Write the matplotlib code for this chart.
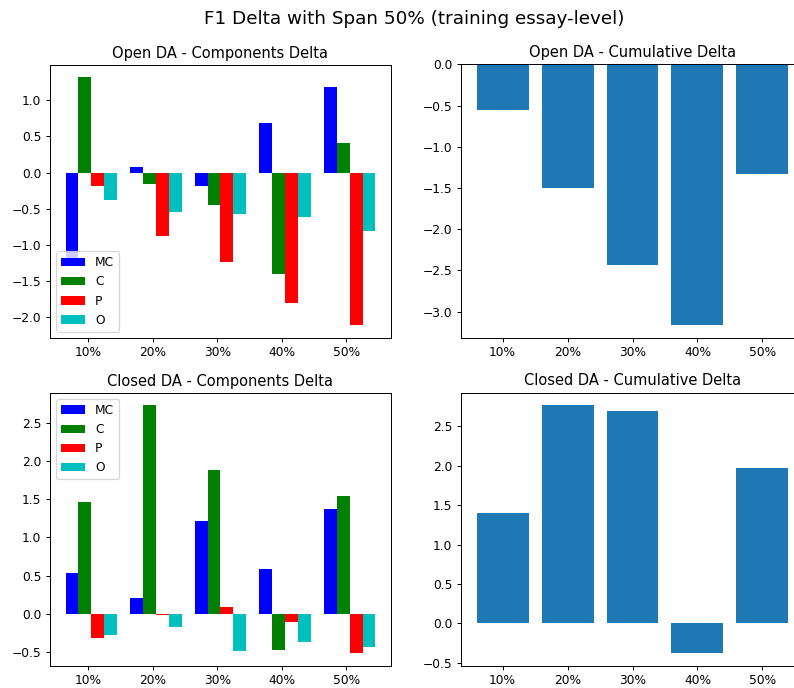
import numpy as np
import matplotlib
matplotlib.use("Agg")
import matplotlib.pyplot as plt

spans = ["10%", "20%", "30%", "40%", "50%"]
components = ["MC", "C", "P", "O"]
colors = ["b", "g", "r", "c"]

# open DA, delta per component
open_mc = [-1.30, 0.074, -0.184, 0.687, 1.184]
open_c = [1.32, -0.157, -0.447, -1.415, 0.406]
open_p = [-0.184, -0.876, -1.235, -1.816, -2.12]
open_o = [-0.378, -0.548, -0.571, -0.613, -0.806]
open_cum = [-0.548, -1.502, -2.432, -3.157, -1.333]

# closed DA, delta per component
closed_mc = [0.539, 0.213, 1.217, 0.591, 1.378]
closed_c = [1.465, 2.730, 1.883, -0.474, 1.543]
closed_p = [-0.322, -0.009, 0.083, -0.113, -0.517]
closed_o = [-0.283, -0.178, -0.491, -0.374, -0.439]
closed_cum = [1.404, 2.770, 2.694, -0.379, 1.973]

DPI = 88


def components_plot(ax, series, title, legend_loc):
    x = np.arange(len(spans))
    width = 0.2
    for k, (vals, name, col) in enumerate(zip(series, components, colors)):
        ax.bar(x - 0.25 + k * width, vals, width, color=col, label=name)
    ax.set_xticks(x)
    ax.set_xticklabels(spans)
    ax.set_title(title)
    ax.legend(loc=legend_loc)


def cumulative_plot(ax, vals, title):
    x = np.arange(len(spans))
    ax.bar(x, vals)
    ax.set_xticks(x)
    ax.set_xticklabels(spans)
    ax.set_title(title)


def main():
    fig = plt.figure(figsize=(795 / DPI, 688 / DPI), dpi=DPI)
    ax1 = fig.add_axes([0.0629, 0.5092, 0.4289, 0.3963])
    ax2 = fig.add_axes([0.5799, 0.5092, 0.4314, 0.3973])
    ax3 = fig.add_axes([0.0629, 0.0324, 0.4289, 0.3964])
    ax4 = fig.add_axes([0.5799, 0.0324, 0.4314, 0.3968])

    components_plot(ax1, [open_mc, open_c, open_p, open_o],
                    "Open DA - Components Delta", "lower left")
    cumulative_plot(ax2, open_cum, "Open DA - Cumulative Delta")
    components_plot(ax3, [closed_mc, closed_c, closed_p, closed_o],
                    "Closed DA - Components Delta", "upper left")
    cumulative_plot(ax4, closed_cum, "Closed DA - Cumulative Delta")

    # the original was a bit wider and cut on the right, so the title sits right of centre
    fig.suptitle("F1 Delta with Span 50% (training essay-level)", fontsize=15, x=0.521, y=0.985)
    fig.savefig("out.png", dpi=DPI)


if __name__ == "__main__":
    main()
